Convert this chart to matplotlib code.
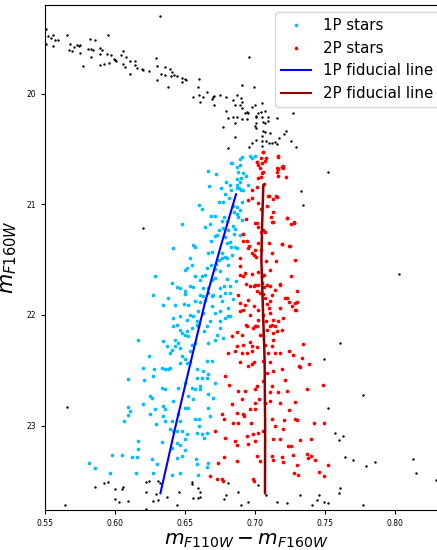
import numpy as np
import matplotlib
matplotlib.use("Agg")
import matplotlib.pyplot as plt
from matplotlib.lines import Line2D

# (F110W - F160W colour, F160W magnitude)

# all stars of the field (black)
all_stars = [
    (0.551, 19.42), (0.552, 19.48), (0.551, 19.55), (0.556, 19.47), (0.554, 19.50),
    (0.557, 19.52), (0.559, 19.52), (0.556, 19.57), (0.566, 19.47), (0.568, 19.55),
    (0.567, 19.61), (0.569, 19.62), (0.571, 19.58), (0.573, 19.56), (0.574, 19.57),
    (0.575, 19.56), (0.575, 19.63), (0.577, 19.75), (0.582, 19.51), (0.586, 19.52),
    (0.583, 19.60), (0.581, 19.60), (0.584, 19.61), (0.583, 19.67), (0.589, 19.59),
    (0.589, 19.64), (0.591, 19.61), (0.589, 19.74), (0.592, 19.73), (0.595, 19.47),
    (0.594, 19.64), (0.597, 19.65), (0.596, 19.72), (0.599, 19.69), (0.600, 19.70),
    (0.601, 19.71), (0.604, 19.65), (0.606, 19.62), (0.606, 19.73), (0.608, 19.67),
    (0.607, 19.76), (0.611, 19.71), (0.611, 19.82), (0.614, 19.71), (0.614, 19.74),
    (0.616, 19.77), (0.619, 19.78), (0.620, 19.79), (0.624, 19.80), (0.629, 19.68),
    (0.630, 19.75), (0.630, 19.88), (0.632, 19.30), (0.633, 19.82), (0.636, 19.76),
    (0.636, 19.83), (0.638, 19.94), (0.639, 19.78), (0.640, 19.84), (0.641, 19.81),
    (0.642, 19.83), (0.644, 19.84), (0.648, 19.86), (0.648, 19.90), (0.650, 19.87),
    (0.651, 19.88), (0.656, 20.03), (0.659, 19.94), (0.660, 19.87), (0.660, 20.01),
    (0.661, 20.08), (0.663, 20.03), (0.666, 19.99), (0.669, 20.05), (0.670, 20.03),
    (0.671, 20.02), (0.671, 20.10), (0.675, 20.01), (0.679, 20.03), (0.691, 19.92),
    (0.699, 19.94), (0.684, 20.06), (0.687, 20.01), (0.690, 20.04), (0.691, 20.08),
    (0.686, 20.10), (0.691, 20.13), (0.689, 20.10), (0.694, 20.17), (0.695, 20.18),
    (0.693, 20.18), (0.698, 20.12), (0.700, 20.10), (0.705, 20.09), (0.679, 20.16),
    (0.681, 20.22), (0.684, 20.21), (0.687, 20.21), (0.686, 20.27), (0.691, 20.23),
    (0.694, 20.23), (0.677, 20.30), (0.686, 20.39), (0.681, 20.49), (0.701, 20.20),
    (0.702, 20.18), (0.704, 20.17), (0.707, 20.16), (0.701, 20.21), (0.705, 20.21),
    (0.709, 20.21), (0.701, 20.27), (0.700, 20.29), (0.706, 20.26), (0.707, 20.27),
    (0.709, 20.25), (0.701, 20.31), (0.706, 20.34), (0.707, 20.35), (0.711, 20.36),
    (0.716, 20.22), (0.727, 20.18), (0.705, 20.38), (0.698, 20.45), (0.701, 20.42),
    (0.705, 20.43), (0.708, 20.43), (0.710, 20.45), (0.712, 20.45), (0.714, 20.44),
    (0.717, 20.40), (0.721, 20.37), (0.722, 20.34), (0.716, 20.46), (0.705, 20.47),
    (0.696, 20.48), (0.726, 20.43), (0.729, 20.48), (0.696, 19.67), (0.752, 20.71),
    (0.733, 20.88), (0.734, 21.01), (0.803, 21.63), (0.620, 21.21), (0.566, 22.83),
    (0.564, 23.72), (0.586, 23.55), (0.592, 23.52), (0.595, 23.51), (0.600, 23.57),
    (0.605, 23.57), (0.606, 23.55), (0.600, 23.66), (0.603, 23.69), (0.609, 23.68),
    (0.622, 23.51), (0.624, 23.50), (0.622, 23.60), (0.629, 23.62), (0.627, 23.68),
    (0.631, 23.67), (0.622, 23.75), (0.631, 23.50), (0.632, 23.52), (0.637, 23.64),
    (0.644, 23.72), (0.646, 23.60), (0.655, 23.51), (0.655, 23.53), (0.656, 23.65),
    (0.659, 23.65), (0.659, 23.56), (0.661, 23.60), (0.661, 23.64), (0.761, 22.25),
    (0.749, 22.40), (0.777, 22.72), (0.752, 22.84), (0.757, 23.07), (0.763, 23.09),
    (0.760, 23.13), (0.764, 23.28), (0.770, 23.31), (0.779, 23.36), (0.786, 23.33),
    (0.813, 23.30), (0.815, 23.43), (0.829, 23.49), (0.681, 23.52), (0.702, 23.54),
    (0.688, 23.60), (0.679, 23.63), (0.678, 23.66), (0.690, 23.72), (0.695, 23.69),
    (0.708, 23.63), (0.716, 23.69), (0.723, 23.70), (0.732, 23.63), (0.741, 23.72),
    (0.744, 23.67), (0.746, 23.63), (0.749, 23.69), (0.752, 23.70), (0.760, 23.61),
    (0.761, 23.56), (0.777, 23.72),
]

# first-population stars (cyan)
p1_stars = [
    (0.6905, 20.571), (0.6893, 20.646), (0.6877, 20.712), (0.6912, 20.721), (0.6936, 20.742),
    (0.6900, 20.766), (0.6889, 20.796), (0.6874, 20.826), (0.6886, 20.856), (0.6900, 20.871),
    (0.6834, 20.631), (0.6662, 20.700), (0.6724, 20.730), (0.6672, 20.835), (0.6791, 20.796),
    (0.6760, 20.850), (0.6822, 20.826), (0.6829, 20.871), (0.6786, 20.907), (0.6774, 20.977),
    (0.6746, 20.977), (0.6817, 20.946), (0.6841, 21.016), (0.6869, 21.022), (0.6893, 21.052),
    (0.6905, 20.977), (0.6917, 20.871), (0.6953, 20.826), (0.6603, 21.007), (0.6619, 21.046),
    (0.6684, 21.106), (0.6717, 21.106), (0.6762, 21.151), (0.6779, 21.112), (0.6803, 21.151),
    (0.6881, 21.118), (0.6905, 21.142), (0.6477, 21.178), (0.6643, 21.208), (0.6679, 21.178),
    (0.6739, 21.232), (0.6727, 21.277), (0.6715, 21.286), (0.6684, 21.328), (0.6774, 21.217),
    (0.6810, 21.232), (0.6853, 21.271), (0.6893, 21.277), (0.6917, 21.271), (0.6786, 21.292),
    (0.6798, 21.352), (0.6822, 21.337), (0.6829, 21.382), (0.6858, 21.382), (0.6869, 21.397),
    (0.6417, 21.397), (0.6560, 21.367), (0.6572, 21.388), (0.6667, 21.442), (0.6691, 21.427),
    (0.6762, 21.442), (0.6762, 21.487), (0.6786, 21.472), (0.6803, 21.487), (0.6834, 21.457),
    (0.6536, 21.487), (0.6512, 21.577), (0.6500, 21.598), (0.6548, 21.547), (0.6655, 21.577),
    (0.6686, 21.547), (0.6715, 21.586), (0.6722, 21.538), (0.6746, 21.502), (0.6750, 21.607),
    (0.6810, 21.547), (0.6286, 21.646), (0.6619, 21.652), (0.6643, 21.637), (0.6608, 21.682),
    (0.6572, 21.652), (0.6691, 21.682), (0.6715, 21.667), (0.6803, 21.676), (0.6405, 21.712),
    (0.6441, 21.748), (0.6465, 21.757), (0.6500, 21.787), (0.6500, 21.808), (0.6536, 21.742),
    (0.6560, 21.748), (0.6631, 21.757), (0.6667, 21.757), (0.6750, 21.757), (0.6779, 21.742),
    (0.6822, 21.742), (0.6862, 21.697), (0.6274, 21.817), (0.6346, 21.907), (0.6381, 21.847),
    (0.6429, 21.913), (0.6489, 21.898), (0.6524, 21.907), (0.6608, 21.817), (0.6631, 21.832),
    (0.6667, 21.802), (0.6703, 21.817), (0.6750, 21.832), (0.6786, 21.802), (0.6822, 21.802),
    (0.6762, 21.877), (0.6691, 21.917), (0.6715, 21.983), (0.6750, 21.968), (0.6810, 21.938),
    (0.6822, 22.013), (0.6846, 21.856), (0.6417, 22.028), (0.6465, 22.013), (0.6512, 22.043),
    (0.6536, 21.998), (0.6560, 22.013), (0.6584, 22.058), (0.6548, 22.118), (0.6596, 21.968),
    (0.6441, 22.088), (0.6596, 22.103), (0.6631, 21.983), (0.6679, 22.058), (0.6750, 22.058),
    (0.6786, 22.028), (0.6810, 22.007), (0.6965, 20.565), (0.7000, 20.562), (0.6869, 20.772),
    (0.6869, 20.856), (0.6853, 21.067), (0.6869, 21.088), (0.6846, 21.196), (0.6858, 21.226),
    (0.6691, 21.832), (0.6643, 21.862), (0.6608, 21.886), (0.6572, 21.877), (0.6655, 22.103),
    (0.6830, 20.630), (0.6870, 20.660), (0.6890, 20.590), (0.6980, 20.580),
    (0.6167, 22.228), (0.6095, 22.574), (0.6203, 22.483), (0.6210, 22.583), (0.6245, 22.372),
    (0.6281, 22.492), (0.6269, 22.553), (0.6333, 22.477), (0.6357, 22.492), (0.6381, 22.492),
    (0.6393, 22.477), (0.6345, 22.237), (0.6369, 22.282), (0.6393, 22.342), (0.6405, 22.312),
    (0.6429, 22.282), (0.6453, 22.252), (0.6464, 22.297), (0.6429, 22.222), (0.6476, 22.162),
    (0.6500, 22.177), (0.6524, 22.192), (0.6548, 22.267), (0.6572, 22.252), (0.6536, 22.327),
    (0.6476, 22.372), (0.6500, 22.402), (0.6464, 22.432), (0.6517, 22.432), (0.6536, 22.426),
    (0.6417, 22.102), (0.6464, 22.132), (0.6517, 22.147), (0.6583, 22.087), (0.6636, 22.147),
    (0.6667, 22.252), (0.6714, 22.222), (0.6726, 22.177), (0.6750, 22.117), (0.6774, 22.207),
    (0.6691, 22.417), (0.6655, 22.417), (0.6631, 22.507), (0.6655, 22.568), (0.6583, 22.492),
    (0.6583, 22.568), (0.6619, 22.568), (0.6548, 22.658), (0.6572, 22.673), (0.6607, 22.673),
    (0.6607, 22.637), (0.6667, 22.537), (0.6714, 22.613), (0.6667, 22.718), (0.6702, 22.748),
    (0.6667, 22.838), (0.6679, 22.913), (0.6333, 22.658), (0.6357, 22.673), (0.6250, 22.733),
    (0.6262, 22.754), (0.6203, 22.808), (0.6286, 22.853), (0.6345, 22.823), (0.6357, 22.853),
    (0.6417, 22.778), (0.6453, 22.658), (0.6500, 22.613), (0.6524, 22.733), (0.6500, 22.838),
    (0.6524, 22.838), (0.6560, 22.763), (0.6095, 22.829), (0.6107, 22.868), (0.6091, 22.904),
    (0.6067, 22.958), (0.6250, 22.898), (0.6293, 22.988), (0.6345, 22.913), (0.6357, 22.958),
    (0.6405, 22.958), (0.6453, 22.898), (0.6464, 22.958), (0.6393, 23.033), (0.6417, 23.048),
    (0.6445, 23.048), (0.6476, 23.048), (0.6572, 22.943), (0.6603, 22.943), (0.6603, 23.003),
    (0.6583, 23.063), (0.6619, 23.078), (0.6655, 23.063), (0.6636, 23.108), (0.6500, 23.123),
    (0.6512, 23.078), (0.6162, 23.138), (0.6167, 23.213), (0.6124, 23.279), (0.6155, 23.282),
    (0.6048, 23.264), (0.5976, 23.267), (0.5964, 23.423), (0.6262, 23.303), (0.6298, 23.342),
    (0.6333, 23.147), (0.6405, 23.198), (0.6440, 23.159), (0.6464, 23.177), (0.6445, 23.288),
    (0.6476, 23.273), (0.6500, 23.222), (0.6576, 23.303), (0.6583, 23.342), (0.6667, 23.333),
    (0.6655, 23.369), (0.6595, 23.447), (0.6464, 23.429), (0.6405, 23.444), (0.6274, 23.429),
    (0.6148, 23.429), (0.5817, 23.340), (0.5857, 23.385),
]

# second-population stars (red)
p2_stars = [
    (0.7060, 20.526), (0.7012, 20.616), (0.7024, 20.646), (0.7048, 20.631), (0.7072, 20.607),
    (0.7036, 20.676), (0.7060, 20.706), (0.7048, 20.721), (0.7024, 20.766), (0.7041, 20.757),
    (0.7162, 20.562), (0.7191, 20.667), (0.7203, 20.655), (0.7155, 20.706), (0.7167, 20.745),
    (0.7219, 20.757), (0.7065, 20.820), (0.7012, 20.841), (0.6977, 20.871), (0.6977, 20.947),
    (0.6953, 20.962), (0.7024, 20.992), (0.7041, 21.046), (0.7089, 20.926), (0.7103, 20.926),
    (0.7150, 20.923), (0.7155, 20.938), (0.7127, 20.956), (0.7084, 21.016), (0.7131, 21.073),
    (0.7115, 21.112), (0.7119, 21.157), (0.7131, 21.163), (0.7227, 21.121), (0.7258, 21.181),
    (0.7279, 21.163), (0.6936, 21.136), (0.6996, 21.166), (0.7012, 21.172), (0.7024, 21.202),
    (0.7041, 21.247), (0.7060, 21.232), (0.7072, 21.247), (0.6917, 21.268), (0.6912, 21.331),
    (0.6941, 21.328), (0.6960, 21.376), (0.6953, 21.397), (0.7000, 21.412), (0.6977, 21.442),
    (0.6989, 21.457), (0.7008, 21.472), (0.7024, 21.352), (0.7041, 21.412), (0.7096, 21.352),
    (0.7119, 21.442), (0.7191, 21.358), (0.7250, 21.376), (0.7286, 21.502), (0.6893, 21.487),
    (0.6889, 21.556), (0.6889, 21.637), (0.6929, 21.622), (0.6917, 21.652), (0.6977, 21.628),
    (0.7024, 21.616), (0.7048, 21.652), (0.7065, 21.637), (0.7079, 21.517), (0.7108, 21.592),
    (0.7150, 21.517), (0.7179, 21.727), (0.6936, 21.718), (0.6965, 21.742), (0.6989, 21.742),
    (0.7000, 21.727), (0.7024, 21.733), (0.7048, 21.712), (0.7065, 21.751), (0.7084, 21.727),
    (0.7108, 21.736), (0.7017, 21.787), (0.7036, 21.802), (0.7055, 21.808), (0.7072, 21.847),
    (0.7084, 21.898), (0.7108, 21.877), (0.7124, 21.817), (0.7143, 21.772), (0.7255, 21.652),
    (0.7298, 21.781), (0.6881, 21.817), (0.6893, 21.892), (0.6929, 21.907), (0.6917, 21.953),
    (0.6889, 21.968), (0.6953, 21.862), (0.6989, 21.923), (0.7024, 21.953), (0.7055, 21.998),
    (0.7096, 21.938), (0.7108, 21.983), (0.7131, 22.043), (0.7179, 21.938), (0.7198, 22.028),
    (0.7286, 21.892), (0.7293, 21.953), (0.7227, 21.847), (0.6965, 21.998), (0.6936, 22.088),
    (0.6996, 22.103), (0.7024, 22.043), (0.7079, 22.058), (0.7119, 22.088), (0.7143, 22.103),
    (0.7162, 22.058), (0.7281, 21.166), (0.7226, 21.121), (0.7245, 21.373), (0.7190, 21.358),
    (0.7178, 21.721), (0.7214, 21.847), (0.7245, 21.886), (0.7286, 21.952), (0.7267, 21.922),
    (0.7298, 21.886), (0.7195, 20.661), (0.7155, 20.676), (0.7055, 20.530), (0.7041, 20.580),
    (0.7079, 20.580), (0.7014, 20.620), (0.7165, 20.570), (0.7165, 20.680), (0.7200, 20.670),
    (0.6833, 22.192), (0.6869, 22.156), (0.6905, 22.177), (0.6941, 22.102), (0.6988, 22.117),
    (0.7012, 22.102), (0.7036, 22.177), (0.7060, 22.177), (0.7083, 22.132), (0.7107, 22.102),
    (0.7131, 22.162), (0.7155, 22.147), (0.7191, 22.132), (0.6810, 22.342), (0.6869, 22.276),
    (0.6917, 22.267), (0.6964, 22.246), (0.6976, 22.282), (0.6857, 22.327), (0.6905, 22.342),
    (0.6941, 22.342), (0.6976, 22.327), (0.7012, 22.288), (0.7071, 22.267), (0.7119, 22.282),
    (0.7131, 22.222), (0.7095, 22.342), (0.7143, 22.342), (0.7179, 22.342), (0.7245, 22.327),
    (0.7269, 22.357), (0.6893, 22.426), (0.6952, 22.462), (0.6976, 22.447), (0.6993, 22.426),
    (0.7060, 22.417), (0.7107, 22.426), (0.7083, 22.522), (0.7131, 22.507), (0.7191, 22.486),
    (0.7317, 22.462), (0.6786, 22.553), (0.6817, 22.628), (0.6881, 22.688), (0.6929, 22.688),
    (0.7000, 22.673), (0.7012, 22.643), (0.7060, 22.598), (0.7107, 22.697), (0.7119, 22.643),
    (0.7167, 22.697), (0.7214, 22.583), (0.7226, 22.688), (0.6833, 22.808), (0.6905, 22.763),
    (0.6869, 22.883), (0.6917, 22.898), (0.6964, 22.853), (0.7000, 22.793), (0.7031, 22.763),
    (0.7000, 22.847), (0.7071, 22.793), (0.7107, 22.778), (0.7179, 22.793), (0.7245, 22.859),
    (0.6762, 22.898), (0.6779, 22.937), (0.6845, 22.979), (0.6881, 22.979), (0.6924, 22.913),
    (0.6969, 22.973), (0.6988, 23.078), (0.7024, 23.063), (0.7060, 23.048), (0.7119, 22.943),
    (0.7143, 23.003), (0.7202, 23.033), (0.7207, 22.952), (0.7286, 22.943), (0.6714, 23.048),
    (0.6786, 23.108), (0.6857, 23.138), (0.6869, 23.177), (0.6941, 23.093), (0.6952, 23.162),
    (0.7000, 23.138), (0.7131, 23.123), (0.7179, 23.123), (0.7238, 23.183), (0.7321, 23.129),
    (0.6738, 23.333), (0.6779, 23.282), (0.6869, 23.318), (0.7012, 23.273), (0.7036, 23.318),
    (0.7119, 23.273), (0.7131, 23.309), (0.7191, 23.279), (0.7202, 23.327), (0.7274, 23.267),
    (0.7298, 23.357), (0.7281, 23.423), (0.7310, 23.447), (0.6679, 23.453), (0.6726, 23.477),
    (0.6762, 23.477), (0.6774, 23.498), (0.6993, 23.498), (0.6983, 23.483), (0.7345, 22.261),
    (0.7333, 22.387), (0.7321, 22.471), (0.7388, 22.441), (0.7374, 22.667), (0.7483, 22.634),
    (0.7424, 22.979), (0.7493, 22.979), (0.7398, 23.123), (0.7369, 23.252), (0.7381, 23.294),
    (0.7400, 23.273), (0.7431, 23.309), (0.7521, 23.354), (0.7455, 23.417), (0.7495, 23.453),
    (0.7302, 22.949), (0.7286, 22.787), (0.7255, 23.183),
]

# fiducial lines
fid1_color = [0.6324, 0.6433, 0.6545, 0.6640, 0.6750, 0.6864]
fid1_mag = [23.61, 23.00, 22.40, 21.90, 21.40, 20.91]
fid2_color = [0.7059, 0.7050, 0.7045, 0.7055, 0.7068, 0.7072, 0.7071]
fid2_mag = [20.83, 21.20, 21.50, 21.90, 22.40, 23.00, 23.61]

c1 = "deepskyblue"
c2 = "red"

fig = plt.figure(figsize=(4.37, 5.5), dpi=100)
ax = fig.add_axes([0.103, 0.073, 0.92, 0.918])

a = np.array(all_stars)
s1 = np.array(p1_stars)
s2 = np.array(p2_stars)
ax.scatter(a[:, 0], a[:, 1], s=3, c="black", linewidths=0)
ax.scatter(s1[:, 0], s1[:, 1], s=7, c=c1, linewidths=0)
ax.scatter(s2[:, 0], s2[:, 1], s=7, c=c2, linewidths=0)
ax.plot(fid1_color, fid1_mag, color="blue", lw=1.5)
ax.plot(fid2_color, fid2_mag, color="darkred", lw=1.8)

ax.set_xlim(0.55, 0.8371)
ax.set_ylim(23.76, 19.2)
ax.set_xticks([0.55, 0.60, 0.65, 0.70, 0.75, 0.80])
ax.set_yticks([20, 21, 22, 23])
ax.tick_params(labelsize=5.5, length=3, width=0.8)

ax.set_xlabel(r"$m_{F110W} - m_{F160W}$", fontsize=14.5, labelpad=2)
ax.set_ylabel(r"$m_{F160W}$", fontsize=15, labelpad=5)

handles = [
    Line2D([], [], ls="", marker="o", ms=2.6, mec="none", mfc=c1),
    Line2D([], [], ls="", marker="o", ms=2.6, mec="none", mfc=c2),
    Line2D([], [], color="blue", lw=1.5),
    Line2D([], [], color="darkred", lw=1.5),
]
labels = ["1P stars", "2P stars", "1P fiducial line", "2P fiducial line"]
ax.legend(handles, labels, loc="upper right", fontsize=10.8)

fig.savefig("out.png", dpi=100)
